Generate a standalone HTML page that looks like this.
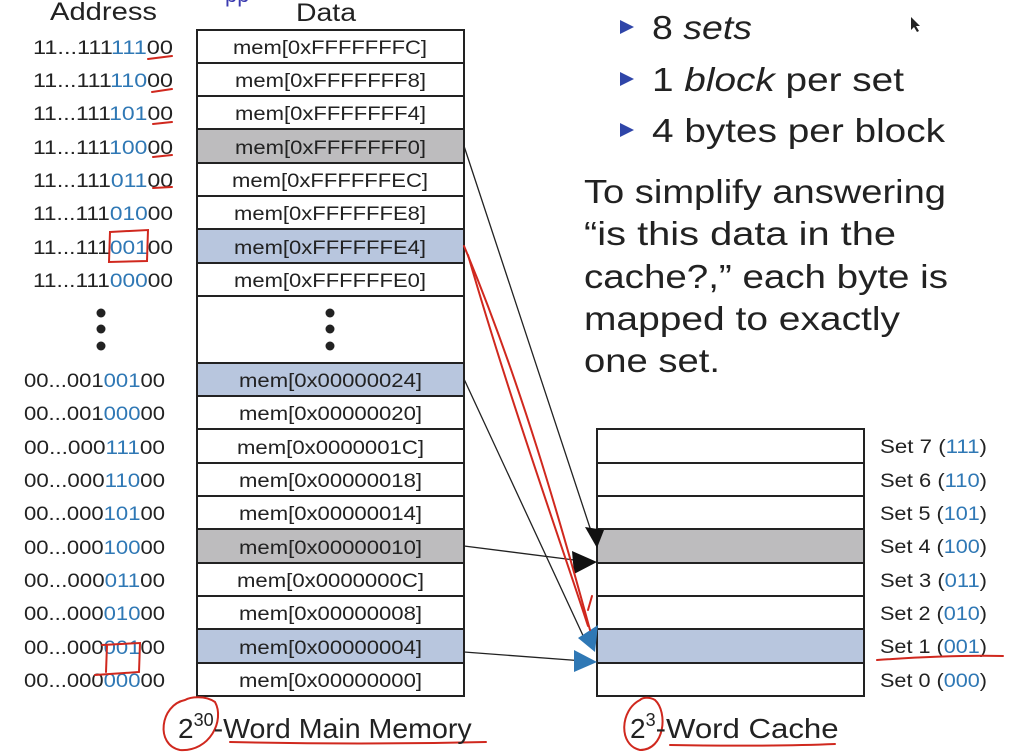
<!DOCTYPE html>
<html><head><style>
html,body{margin:0;padding:0;background:#fff;}
svg{display:block;font-family:"Liberation Sans",sans-serif;}
</style></head><body>
<svg width="1019" height="754" viewBox="0 0 1019 754" xmlns="http://www.w3.org/2000/svg">
<rect width="1019" height="754" fill="#fff"/>
<text x="50" y="20" font-size="25" textLength="107" lengthAdjust="spacingAndGlyphs" fill="#222">Address</text>
<text x="296" y="21" font-size="25" textLength="60" lengthAdjust="spacingAndGlyphs" fill="#222">Data</text>
<text x="225" y="2" font-size="22" fill="#3b3bb0">pp</text>

<g stroke="#222" stroke-width="2">
<rect x="197" y="30" width="267" height="266" fill="#fff"/>
<rect x="197" y="129" width="267" height="34" fill="#bdbcbe"/>
<rect x="197" y="229" width="267" height="34" fill="#b8c6de"/>
<line x1="197" y1="63" x2="464" y2="63"/><line x1="197" y1="96" x2="464" y2="96"/>
<line x1="197" y1="196" x2="464" y2="196"/>
<rect x="197" y="296" width="267" height="67" fill="#fff"/>
<rect x="197" y="363" width="267" height="333" fill="#fff"/>
<rect x="197" y="363" width="267" height="33" fill="#b8c6de"/>
<rect x="197" y="529" width="267" height="34" fill="#bdbcbe"/>
<rect x="197" y="629" width="267" height="34" fill="#b8c6de"/>
<line x1="197" y1="429" x2="464" y2="429"/><line x1="197" y1="463" x2="464" y2="463"/>
<line x1="197" y1="496" x2="464" y2="496"/><line x1="197" y1="596" x2="464" y2="596"/>
</g>
<g fill="#222"><circle cx="330" cy="313" r="4.5"/><circle cx="330" cy="329" r="4.5"/><circle cx="330" cy="346" r="4.5"/>
<circle cx="101" cy="313" r="4.5"/><circle cx="101" cy="329" r="4.5"/><circle cx="101" cy="346" r="4.5"/></g>

<g font-size="19.5" fill="#222" lengthAdjust="spacingAndGlyphs">
<text x="233" y="54" textLength="194" lengthAdjust="spacingAndGlyphs">mem[0xFFFFFFFC]</text>
<text x="235" y="87" textLength="191" lengthAdjust="spacingAndGlyphs">mem[0xFFFFFFF8]</text>
<text x="235" y="120" textLength="191" lengthAdjust="spacingAndGlyphs">mem[0xFFFFFFF4]</text>
<text x="235" y="154" textLength="191" lengthAdjust="spacingAndGlyphs">mem[0xFFFFFFF0]</text>
<text x="232" y="187" textLength="196" lengthAdjust="spacingAndGlyphs">mem[0xFFFFFFEC]</text>
<text x="234" y="220" textLength="192" lengthAdjust="spacingAndGlyphs">mem[0xFFFFFFE8]</text>
<text x="234" y="254" textLength="192" lengthAdjust="spacingAndGlyphs">mem[0xFFFFFFE4]</text>
<text x="234" y="287" textLength="192" lengthAdjust="spacingAndGlyphs">mem[0xFFFFFFE0]</text>
<text x="239" y="387" textLength="183" lengthAdjust="spacingAndGlyphs">mem[0x00000024]</text>
<text x="239" y="420" textLength="183" lengthAdjust="spacingAndGlyphs">mem[0x00000020]</text>
<text x="237" y="454" textLength="187" lengthAdjust="spacingAndGlyphs">mem[0x0000001C]</text>
<text x="239" y="487" textLength="183" lengthAdjust="spacingAndGlyphs">mem[0x00000018]</text>
<text x="239" y="520" textLength="183" lengthAdjust="spacingAndGlyphs">mem[0x00000014]</text>
<text x="239" y="554" textLength="183" lengthAdjust="spacingAndGlyphs">mem[0x00000010]</text>
<text x="237" y="587" textLength="187" lengthAdjust="spacingAndGlyphs">mem[0x0000000C]</text>
<text x="239" y="620" textLength="183" lengthAdjust="spacingAndGlyphs">mem[0x00000008]</text>
<text x="239" y="654" textLength="183" lengthAdjust="spacingAndGlyphs">mem[0x00000004]</text>
<text x="239" y="687" textLength="183" lengthAdjust="spacingAndGlyphs">mem[0x00000000]</text>
</g>

<g font-size="19.5" fill="#222">
<text x="33" y="54" textLength="140" lengthAdjust="spacingAndGlyphs">11...111<tspan fill="#2f78b5">111</tspan>00</text>
<text x="33" y="87" textLength="140" lengthAdjust="spacingAndGlyphs">11...111<tspan fill="#2f78b5">110</tspan>00</text>
<text x="33" y="120" textLength="140" lengthAdjust="spacingAndGlyphs">11...111<tspan fill="#2f78b5">101</tspan>00</text>
<text x="33" y="154" textLength="140" lengthAdjust="spacingAndGlyphs">11...111<tspan fill="#2f78b5">100</tspan>00</text>
<text x="33" y="187" textLength="140" lengthAdjust="spacingAndGlyphs">11...111<tspan fill="#2f78b5">011</tspan>00</text>
<text x="33" y="220" textLength="140" lengthAdjust="spacingAndGlyphs">11...111<tspan fill="#2f78b5">010</tspan>00</text>
<text x="33" y="254" textLength="140" lengthAdjust="spacingAndGlyphs">11...111<tspan fill="#2f78b5">001</tspan>00</text>
<text x="33" y="287" textLength="140" lengthAdjust="spacingAndGlyphs">11...111<tspan fill="#2f78b5">000</tspan>00</text>
<text x="24" y="387" textLength="141" lengthAdjust="spacingAndGlyphs">00...001<tspan fill="#2f78b5">001</tspan>00</text>
<text x="24" y="420" textLength="141" lengthAdjust="spacingAndGlyphs">00...001<tspan fill="#2f78b5">000</tspan>00</text>
<text x="24" y="454" textLength="141" lengthAdjust="spacingAndGlyphs">00...000<tspan fill="#2f78b5">111</tspan>00</text>
<text x="24" y="487" textLength="141" lengthAdjust="spacingAndGlyphs">00...000<tspan fill="#2f78b5">110</tspan>00</text>
<text x="24" y="520" textLength="141" lengthAdjust="spacingAndGlyphs">00...000<tspan fill="#2f78b5">101</tspan>00</text>
<text x="24" y="554" textLength="141" lengthAdjust="spacingAndGlyphs">00...000<tspan fill="#2f78b5">100</tspan>00</text>
<text x="24" y="587" textLength="141" lengthAdjust="spacingAndGlyphs">00...000<tspan fill="#2f78b5">011</tspan>00</text>
<text x="24" y="620" textLength="141" lengthAdjust="spacingAndGlyphs">00...000<tspan fill="#2f78b5">010</tspan>00</text>
<text x="24" y="654" textLength="141" lengthAdjust="spacingAndGlyphs">00...000<tspan fill="#2f78b5">001</tspan>00</text>
<text x="24" y="687" textLength="141" lengthAdjust="spacingAndGlyphs">00...000<tspan fill="#2f78b5">000</tspan>00</text>
</g>

<g stroke="#222" stroke-width="2">
<rect x="597" y="429" width="267" height="267" fill="#fff"/>
<rect x="597" y="529" width="267" height="34" fill="#bdbcbe"/>
<rect x="597" y="629" width="267" height="34" fill="#b8c6de"/>
<line x1="597" y1="463" x2="864" y2="463"/><line x1="597" y1="496" x2="864" y2="496"/>
<line x1="597" y1="596" x2="864" y2="596"/>
</g>
<g font-size="19.5" fill="#222">
<text x="880" y="453" textLength="107" lengthAdjust="spacingAndGlyphs">Set 7 (<tspan fill="#2f78b5">111</tspan>)</text>
<text x="880" y="487" textLength="107" lengthAdjust="spacingAndGlyphs">Set 6 (<tspan fill="#2f78b5">110</tspan>)</text>
<text x="880" y="520" textLength="107" lengthAdjust="spacingAndGlyphs">Set 5 (<tspan fill="#2f78b5">101</tspan>)</text>
<text x="880" y="553" textLength="107" lengthAdjust="spacingAndGlyphs">Set 4 (<tspan fill="#2f78b5">100</tspan>)</text>
<text x="880" y="587" textLength="107" lengthAdjust="spacingAndGlyphs">Set 3 (<tspan fill="#2f78b5">011</tspan>)</text>
<text x="880" y="620" textLength="107" lengthAdjust="spacingAndGlyphs">Set 2 (<tspan fill="#2f78b5">010</tspan>)</text>
<text x="880" y="653" textLength="107" lengthAdjust="spacingAndGlyphs">Set 1 (<tspan fill="#2f78b5">001</tspan>)</text>
<text x="880" y="687" textLength="107" lengthAdjust="spacingAndGlyphs">Set 0 (<tspan fill="#2f78b5">000</tspan>)</text>
</g>

<g stroke="#222" stroke-width="1.3" fill="none">
<line x1="464" y1="146" x2="594" y2="540"/>
<line x1="464" y1="546" x2="590" y2="562"/>
<line x1="464" y1="379" x2="586" y2="642"/>
<line x1="464" y1="652" x2="584" y2="661"/>
</g>
<path d="M585,527 L604,530 L597,548z" fill="#111"/>
<path d="M572,551 L597,562 L574,574z" fill="#111"/>
<path d="M578,638 L598,625 L595,652z" fill="#2f78b5"/>
<path d="M574,650 L597,662 L574,672z" fill="#2f78b5"/>

<g stroke="#d0281e" stroke-width="2" fill="none" stroke-linecap="round">
<path d="M464,246 C520,380 560,520 590,630"/>
<path d="M468,255 C510,400 560,540 588,626"/>
<path d="M588,610 L592,596"/>
<path d="M148,59 L172,56 M152,92 L172,89 M153,124 L172,122 M153,157 L172,155 M153,188 L172,187"/>
<path d="M110,232 L148,230 L147,261 L109,262z"/>
<path d="M102,645 L140,643 L139,672 L95,675 M107,645 L106,672"/>
<path d="M877,660 C920,657 960,655 1003,656"/>
<path d="M230,742 C320,744 400,744 486,742"/>
<path d="M185,700 C160,705 155,745 180,750 C210,752 225,720 215,702 C205,695 190,697 185,700"/>
<path d="M670,745 C720,746 790,746 835,744"/>
<path d="M640,700 C620,710 618,745 640,750 C665,750 668,712 655,700 C650,697 643,697 640,700"/>
</g>

<text x="178" y="738" font-size="28" fill="#222">2<tspan dy="-12" font-size="18">30</tspan><tspan dy="12" textLength="258" lengthAdjust="spacingAndGlyphs">-Word Main Memory</tspan></text>
<text x="630" y="738" font-size="28" fill="#222">2<tspan dy="-12" font-size="18">3</tspan><tspan dy="12" textLength="183" lengthAdjust="spacingAndGlyphs">-Word Cache</tspan></text>

<g fill="#2f45a8"><path d="M620,20 L634,27 L620,34z"/><path d="M620,72 L634,79 L620,86z"/><path d="M620,123 L634,130 L620,137z"/></g>
<g font-size="33" fill="#222">
<text x="652" y="39" textLength="100" lengthAdjust="spacingAndGlyphs">8 <tspan font-style="italic">sets</tspan></text>
<text x="652" y="91" textLength="252" lengthAdjust="spacingAndGlyphs">1 <tspan font-style="italic">block</tspan> per set</text>
<text x="652" y="142" textLength="293" lengthAdjust="spacingAndGlyphs">4 bytes per block</text>
<text x="584" y="203" textLength="362" lengthAdjust="spacingAndGlyphs">To simplify answering</text>
<text x="584" y="245" textLength="312" lengthAdjust="spacingAndGlyphs">“is this data in the</text>
<text x="584" y="288" textLength="364" lengthAdjust="spacingAndGlyphs">cache?,” each byte is</text>
<text x="584" y="330" textLength="316" lengthAdjust="spacingAndGlyphs">mapped to exactly</text>
<text x="584" y="372" textLength="136" lengthAdjust="spacingAndGlyphs">one set.</text>
</g>
<path d="M911,17 L911,30 L914,27 L917,32 L919,31 L916,26 L920,26z" fill="#222"/>
</svg>
</body></html>
